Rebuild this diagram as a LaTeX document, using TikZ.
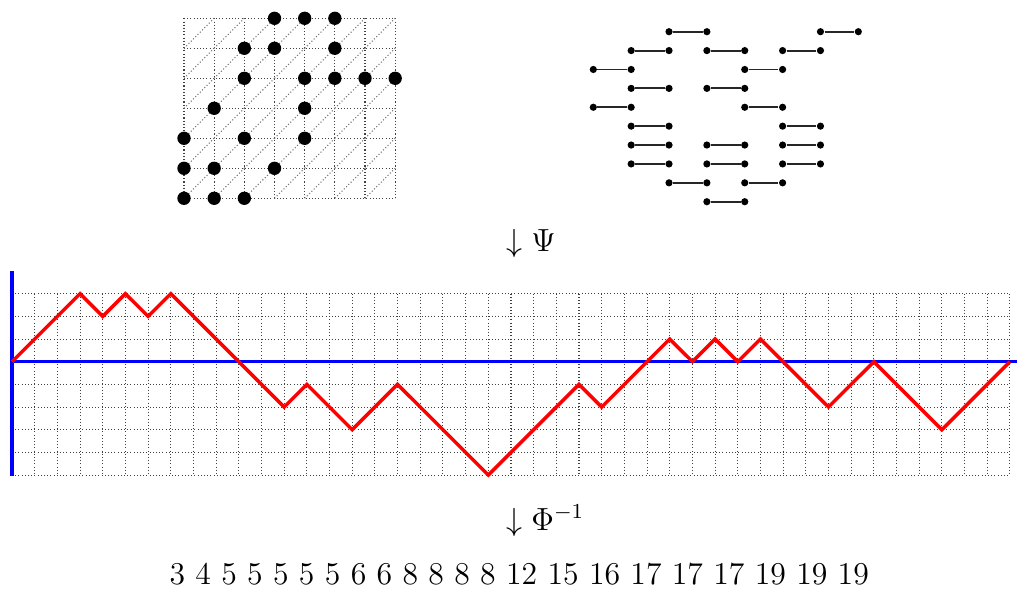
\documentclass[tikz,border=0pt]{standalone}
\begin{document}
\begin{tikzpicture}[x=0.375pt,y=-0.375pt,
  gridline/.style={black!75, line width=0.4pt, dash pattern=on 0.4pt off 0.8pt},
  diagline/.style={black!55, line width=0.4pt, dash pattern=on 0.4pt off 0.8pt},
  bigdot/.style={circle, fill=black, inner sep=0pt, minimum size=5pt},
  smalldot/.style={circle, fill=black, inner sep=0pt, minimum size=2.7pt},
  matchline/.style={black!85, line width=0.7pt},
  axisline/.style={blue, line width=1.3pt},
  pathline/.style={red, line width=1.3pt},
  lbl/.style={font=\fontsize{11.9}{14}\selectfont, inner sep=0pt}]
\useasboundingbox (0,0) rectangle (1017,589);
% ---- top-left grid with dots
\foreach \i in {0,...,7} \draw[gridline] ({184+30.17*\i},18.3) -- ({184+30.17*\i},198.3);
\foreach \j in {0,...,6} \draw[gridline] (184,{198.3-30*\j}) -- (395.2,{198.3-30*\j});
\foreach \i in {0,...,6} \foreach \j in {0,...,5}
  \draw[diagline] ({184+30.17*\i},{198.3-30*\j}) -- ({184+30.17*(\i+1)},{198.3-30*(\j+1)});
\foreach \c/\r in {3/6,4/6,5/6,2/5,3/5,5/5,2/4,4/4,5/4,6/4,7/4,1/3,4/3,0/2,2/2,4/2,0/1,1/1,3/1,0/0,1/0,2/0}
  \node[bigdot] (p\c-\r) at ({184+30.17*\c},{198.3-30*\r}) {};
% ---- top-right matchings
\foreach \r/\c in {0/2,0/6,1/1,1/3,1/5,2/0,2/4,3/1,3/3,4/0,4/4,5/1,5/5,6/1,6/3,6/5,7/1,7/3,7/5,8/2,8/4,9/3} {
  \node[smalldot] (a\r-\c) at ({593.3+37.86*\c},{31.7+18.89*\r}) {};
  \node[smalldot] (b\r-\c) at ({593.3+37.86*(\c+1)},{31.7+18.89*\r}) {};
  \draw[matchline] (a\r-\c) -- (b\r-\c);
}
% ---- label Psi
\node[lbl, anchor=west] (psi) at (506,243) {$\downarrow\Psi$};
% ---- lattice path grid
\foreach \i in {0,...,44} \draw[gridline] ({12+22.68*\i},293.7) -- ({12+22.68*\i},475);
\foreach \j in {-5,...,3} \draw[gridline] (12,{361.7-22.67*\j}) -- (1010,{361.7-22.67*\j});
\draw[axisline] (12,475.5) -- (12,271);
\draw[axisline] (12,361.7) -- (1017,361.7);
\begin{scope}[shift={(12,361.7)}, x=8.505pt, y=8.5pt]
\draw[pathline] (0,0) -- (3,3) -- (4,2) -- (5,3) -- (6,2) -- (7,3) -- (12,-2) -- (13,-1) -- (15,-3) -- (17,-1) -- (21,-5) -- (25,-1) -- (26,-2) -- (29,1) -- (30,0) -- (31,1) -- (32,0) -- (33,1) -- (36,-2) -- (38,0) -- (41,-3) -- (44,0);
\end{scope}
% ---- label Phi^-1
\node[lbl, anchor=west] (phi) at (506,521) {$\downarrow\Phi^{-1}$};
% ---- sequence
\node[lbl, anchor=base west] (seq) at (169,584) {3 4 5 5 5 5 5 6 6 8 8 8 8 12 15 16 17 17 17 19 19 19};
\end{tikzpicture}
\end{document}
